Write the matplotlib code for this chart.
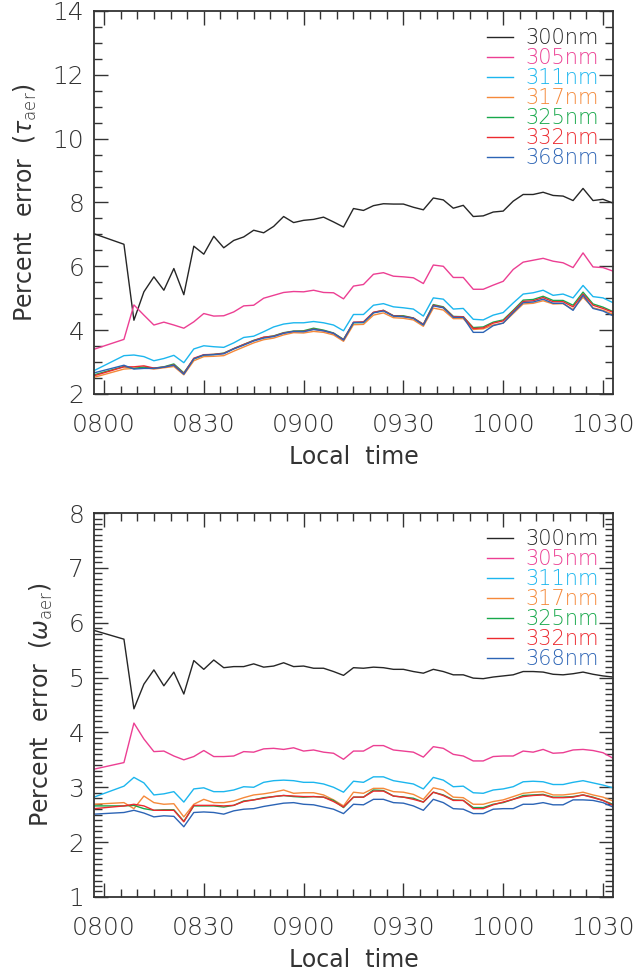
import numpy as np
import matplotlib
matplotlib.use('Agg')
import matplotlib.pyplot as plt
from matplotlib.ticker import MultipleLocator, FuncFormatter

# Local time of each retrieval, minutes after midnight (0757, then every 3 min from 0806)
times = [477] + list(range(486, 634, 3))

wavelengths = ['300nm', '305nm', '311nm', '317nm', '325nm', '332nm', '368nm']
colors = ['#262626', '#ec3f93', '#1cb6ee', '#f5893a', '#17a84b', '#ec2a2f', '#2c64b5']

# Top panel: percent error in tau_aer
tau_300 = [7.02, 6.69, 4.31, 5.20, 5.67, 5.25, 5.93, 5.11, 6.63, 6.38, 6.94, 6.58, 6.81, 6.92, 7.13,
           7.05, 7.25, 7.56, 7.37, 7.44, 7.47, 7.54, 7.39, 7.23, 7.81, 7.75, 7.90, 7.96, 7.95, 7.95,
           7.85, 7.77, 8.14, 8.08, 7.82, 7.91, 7.56, 7.58, 7.70, 7.73, 8.04, 8.25, 8.25, 8.32, 8.22,
           8.20, 8.06, 8.44, 8.06, 8.10, 7.98]
tau_305 = [3.40, 3.71, 4.79, 4.47, 4.16, 4.25, 4.16, 4.06, 4.26, 4.52, 4.44, 4.45, 4.57, 4.76, 4.78,
           5.00, 5.09, 5.18, 5.21, 5.20, 5.25, 5.18, 5.17, 4.98, 5.38, 5.43, 5.75, 5.80, 5.69, 5.67,
           5.64, 5.46, 6.04, 6.00, 5.65, 5.65, 5.28, 5.28, 5.41, 5.53, 5.90, 6.13, 6.19, 6.25, 6.16,
           6.11, 5.96, 6.42, 5.98, 5.96, 5.85]
tau_311 = [2.73, 3.20, 3.22, 3.17, 3.04, 3.11, 3.21, 2.98, 3.41, 3.51, 3.48, 3.46, 3.60, 3.77, 3.81,
           3.95, 4.10, 4.19, 4.23, 4.23, 4.27, 4.23, 4.16, 3.98, 4.49, 4.49, 4.78, 4.83, 4.73, 4.70,
           4.66, 4.44, 5.01, 4.97, 4.66, 4.68, 4.34, 4.32, 4.47, 4.55, 4.85, 5.13, 5.17, 5.25, 5.09,
           5.13, 5.01, 5.40, 5.05, 5.01, 4.86]
tau_317 = [2.52, 2.78, 2.80, 2.83, 2.78, 2.82, 2.86, 2.60, 3.04, 3.17, 3.18, 3.20, 3.34, 3.47, 3.60,
           3.70, 3.75, 3.85, 3.92, 3.91, 3.96, 3.93, 3.85, 3.65, 4.17, 4.18, 4.47, 4.54, 4.39, 4.37,
           4.32, 4.12, 4.69, 4.63, 4.36, 4.36, 4.02, 4.04, 4.16, 4.22, 4.52, 4.82, 4.84, 4.92, 4.82,
           4.83, 4.65, 5.03, 4.70, 4.62, 4.50]
tau_325 = [2.60, 2.86, 2.80, 2.84, 2.81, 2.85, 2.94, 2.66, 3.10, 3.22, 3.24, 3.28, 3.42, 3.55, 3.68,
           3.77, 3.82, 3.92, 3.97, 3.98, 4.06, 4.00, 3.91, 3.71, 4.23, 4.24, 4.55, 4.62, 4.45, 4.45,
           4.38, 4.18, 4.80, 4.73, 4.43, 4.42, 4.08, 4.10, 4.25, 4.32, 4.62, 4.94, 4.96, 5.06, 4.93,
           4.93, 4.78, 5.19, 4.82, 4.72, 4.58]
tau_332 = [2.57, 2.85, 2.85, 2.88, 2.81, 2.84, 2.91, 2.64, 3.12, 3.23, 3.24, 3.27, 3.42, 3.55, 3.67,
           3.78, 3.81, 3.91, 3.96, 3.96, 4.03, 3.98, 3.90, 3.70, 4.25, 4.26, 4.56, 4.62, 4.45, 4.43,
           4.38, 4.18, 4.78, 4.71, 4.42, 4.42, 4.05, 4.07, 4.22, 4.29, 4.59, 4.90, 4.92, 5.02, 4.89,
           4.89, 4.73, 5.13, 4.78, 4.68, 4.56]
tau_368 = [2.66, 2.90, 2.78, 2.80, 2.80, 2.84, 2.90, 2.62, 3.10, 3.22, 3.23, 3.26, 3.41, 3.53, 3.66,
           3.75, 3.80, 3.90, 3.96, 3.95, 4.02, 3.98, 3.90, 3.69, 4.24, 4.24, 4.54, 4.60, 4.44, 4.42,
           4.37, 4.16, 4.76, 4.70, 4.40, 4.40, 3.93, 3.93, 4.14, 4.22, 4.55, 4.86, 4.88, 4.97, 4.84,
           4.84, 4.62, 5.09, 4.68, 4.60, 4.45]

# Bottom panel: percent error in omega_aer
omg_300 = [5.86, 5.70, 4.43, 4.88, 5.14, 4.85, 5.10, 4.70, 5.31, 5.15, 5.32, 5.18, 5.20, 5.20, 5.25,
           5.19, 5.21, 5.27, 5.20, 5.21, 5.17, 5.17, 5.11, 5.04, 5.18, 5.17, 5.19, 5.18, 5.15, 5.15,
           5.11, 5.08, 5.15, 5.11, 5.05, 5.05, 4.99, 4.98, 5.01, 5.03, 5.05, 5.11, 5.11, 5.10, 5.06,
           5.05, 5.07, 5.10, 5.06, 5.03, 5.01]
omg_305 = [3.33, 3.45, 4.17, 3.88, 3.65, 3.66, 3.57, 3.50, 3.56, 3.67, 3.56, 3.56, 3.57, 3.65, 3.64,
           3.70, 3.71, 3.69, 3.72, 3.66, 3.68, 3.64, 3.62, 3.51, 3.66, 3.66, 3.76, 3.76, 3.68, 3.66,
           3.64, 3.55, 3.74, 3.71, 3.60, 3.57, 3.48, 3.48, 3.56, 3.57, 3.57, 3.66, 3.64, 3.69, 3.62,
           3.63, 3.68, 3.69, 3.67, 3.63, 3.53]
omg_311 = [2.82, 3.02, 3.18, 3.08, 2.86, 2.88, 2.92, 2.73, 2.97, 2.99, 2.92, 2.92, 2.95, 3.01, 3.00,
           3.09, 3.12, 3.13, 3.12, 3.09, 3.09, 3.06, 3.00, 2.91, 3.11, 3.09, 3.19, 3.19, 3.12, 3.09,
           3.06, 2.97, 3.18, 3.13, 3.01, 3.02, 2.90, 2.89, 2.95, 2.97, 3.01, 3.10, 3.11, 3.10, 3.05,
           3.05, 3.09, 3.12, 3.08, 3.04, 2.99]
omg_317 = [2.69, 2.72, 2.61, 2.84, 2.72, 2.69, 2.70, 2.46, 2.69, 2.78, 2.72, 2.72, 2.75, 2.81, 2.86,
           2.88, 2.91, 2.95, 2.89, 2.90, 2.90, 2.86, 2.77, 2.66, 2.91, 2.89, 2.98, 2.98, 2.92, 2.91,
           2.87, 2.78, 2.99, 2.95, 2.82, 2.81, 2.69, 2.69, 2.74, 2.77, 2.83, 2.89, 2.91, 2.92, 2.86,
           2.86, 2.88, 2.91, 2.86, 2.82, 2.75]
omg_325 = [2.66, 2.66, 2.67, 2.61, 2.58, 2.59, 2.59, 2.38, 2.66, 2.66, 2.66, 2.64, 2.67, 2.75, 2.77,
           2.81, 2.83, 2.85, 2.83, 2.82, 2.83, 2.82, 2.76, 2.63, 2.82, 2.82, 2.95, 2.94, 2.84, 2.82,
           2.80, 2.73, 2.91, 2.86, 2.77, 2.76, 2.63, 2.63, 2.69, 2.72, 2.78, 2.85, 2.86, 2.87, 2.82,
           2.82, 2.83, 2.86, 2.82, 2.76, 2.69]
omg_332 = [2.61, 2.66, 2.69, 2.66, 2.58, 2.58, 2.58, 2.37, 2.67, 2.67, 2.67, 2.66, 2.67, 2.74, 2.77,
           2.80, 2.83, 2.85, 2.84, 2.83, 2.83, 2.82, 2.74, 2.64, 2.82, 2.82, 2.93, 2.93, 2.84, 2.82,
           2.78, 2.73, 2.91, 2.85, 2.76, 2.76, 2.61, 2.61, 2.68, 2.73, 2.78, 2.83, 2.85, 2.86, 2.81,
           2.81, 2.82, 2.86, 2.81, 2.76, 2.67]
omg_368 = [2.51, 2.54, 2.58, 2.53, 2.46, 2.48, 2.47, 2.28, 2.54, 2.55, 2.54, 2.51, 2.57, 2.60, 2.61,
           2.65, 2.68, 2.71, 2.72, 2.69, 2.68, 2.64, 2.60, 2.52, 2.69, 2.68, 2.78, 2.78, 2.72, 2.71,
           2.66, 2.58, 2.78, 2.72, 2.61, 2.60, 2.52, 2.52, 2.60, 2.61, 2.61, 2.69, 2.69, 2.72, 2.68,
           2.68, 2.77, 2.77, 2.76, 2.72, 2.64]

tau_all = [tau_300, tau_305, tau_311, tau_317, tau_325, tau_332, tau_368]
omg_all = [omg_300, omg_305, omg_311, omg_317, omg_325, omg_332, omg_368]

plt.rcParams['font.family'] = ['DejaVu Sans']
plt.rcParams['font.weight'] = 'light'
plt.rcParams['mathtext.fontset'] = 'dejavusans'

txt_col = '#333333'
fig = plt.figure(figsize=(6.36, 9.72), dpi=100)


def hhmm(x, pos):
    return '%02d%02d' % (int(x) // 60, int(x) % 60)


def style_axes(ax, ylim, ymajor, yminor, ylabel, leg_top):
    ax.set_xlim(times[0], times[-1])
    ax.set_ylim(*ylim)
    ax.xaxis.set_major_locator(MultipleLocator(30))
    ax.xaxis.set_minor_locator(MultipleLocator(5))
    ax.xaxis.set_major_formatter(FuncFormatter(hhmm))
    ax.yaxis.set_major_locator(MultipleLocator(ymajor))
    ax.yaxis.set_minor_locator(MultipleLocator(yminor))
    ax.tick_params(which='both', direction='in', top=True, right=True, color=txt_col, width=1.0)
    ax.tick_params(which='major', length=10)
    ax.tick_params(which='minor', length=5.5)
    ax.tick_params(axis='x', which='major', labelsize=18, pad=14, labelcolor=txt_col)
    ax.tick_params(axis='y', which='major', labelsize=18, pad=7, labelcolor=txt_col)
    for s in ax.spines.values():
        s.set_color(txt_col)
        s.set_linewidth(1.3)
    ax.set_xlabel('Local  time', fontsize=17, color=txt_col, labelpad=5.5)
    ax.set_ylabel(ylabel, fontsize=17, color=txt_col, labelpad=10)
    leg = ax.legend(loc='upper right', bbox_to_anchor=(0.972, leg_top), frameon=False,
                    fontsize=15, handlelength=1.25, handletextpad=0.55, labelspacing=0.0,
                    labelcolor='linecolor', borderaxespad=0, borderpad=0)
    return leg


ax1 = fig.add_axes([0.1478, 0.5947, 0.816, 0.394])
for vals, c, lab in zip(tau_all, colors, wavelengths):
    ax1.plot(times, vals, color=c, lw=1.0, label=lab)
style_axes(ax1, (2, 14), 2, 0.5, r'Percent  error  ($\tau_{\rm aer}$)', 0.956)

ax2 = fig.add_axes([0.1478, 0.0772, 0.816, 0.395])
for vals, c, lab in zip(omg_all, colors, wavelengths):
    ax2.plot(times, vals, color=c, lw=1.0, label=lab)
style_axes(ax2, (1, 8), 1, 0.1, r'Percent  error  ($\omega_{\rm aer}$)', 0.958)

fig.savefig('out.png', dpi=100)
